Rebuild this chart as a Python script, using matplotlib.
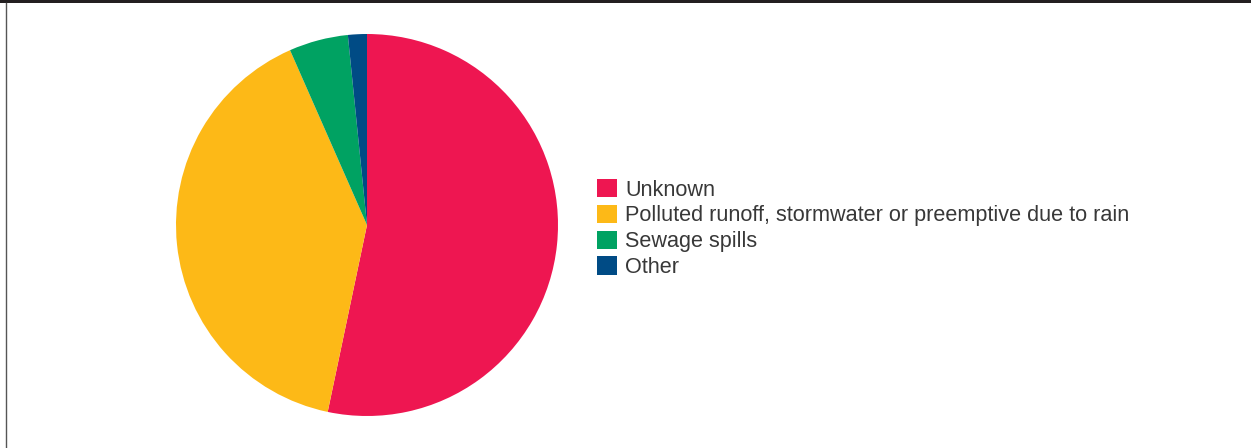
import matplotlib
matplotlib.use("Agg")
import matplotlib.pyplot as plt
from matplotlib.patches import Rectangle, Patch
from matplotlib.lines import Line2D

categories = ["Unknown",
              "Polluted runoff, stormwater or preemptive due to rain",
              "Sewage spills",
              "Other"]
values = [53.3, 40.1, 5.0, 1.6]
colors = ["#EE1651", "#FDB917", "#00A262", "#004B85"]

W, H = 1251, 448
fig = plt.figure(figsize=(W / 100, H / 100), dpi=100)
fig.patch.set_facecolor("white")

# pie axes: centre (367,225), radius 191 px
cx, cy, r = 367, 225, 191
ax = fig.add_axes([(cx - r) / W, (H - cy - r) / H, 2 * r / W, 2 * r / H])
ax.pie(values, colors=colors, startangle=90, counterclock=False,
       wedgeprops=dict(linewidth=0))
ax.set_xlim(-1, 1)
ax.set_ylim(-1, 1)
ax.set_aspect("equal")
ax.axis("off")

handles = [Patch(facecolor=c, edgecolor="none") for c in colors]
leg = fig.legend(handles, categories, loc="upper left",
                 bbox_to_anchor=(597 / W, 1 - 179 / H),
                 frameon=False, prop={"family": "Liberation Sans", "size": 15.6},
                 handlelength=0.93, handleheight=0.93, handletextpad=0.38,
                 labelspacing=0.19, borderaxespad=0, borderpad=0)
for t in leg.get_texts():
    t.set_color("#383838")

# frame decorations
fig.add_artist(Rectangle((0, 1 - 3 / H), 1, 3 / H, transform=fig.transFigure,
                         facecolor="#231F20", edgecolor="none"))
fig.add_artist(Line2D([5.5 / W, 5.5 / W], [0, 1 - 3 / H], transform=fig.transFigure,
                      color="#555555", linewidth=1.0))

fig.savefig("out.png", dpi=100, facecolor="white")
